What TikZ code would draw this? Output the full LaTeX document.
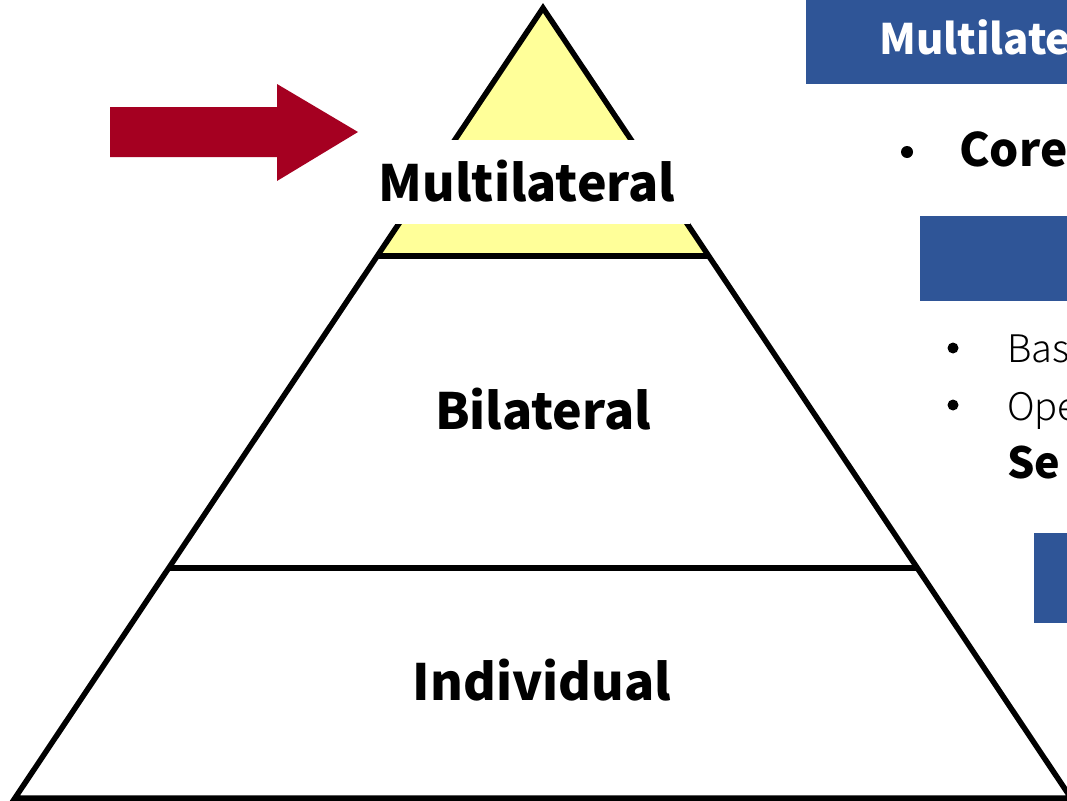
\documentclass[tikz,border=0pt]{standalone}
\usepackage{fontspec}
\setmainfont{Noto Sans CJK JP}
\IfFontExistsTF{Noto Sans CJK JP Light}
  {\newfontfamily\lightfont{Noto Sans CJK JP Light}}
  {\newfontfamily\lightfont{Noto Sans CJK JP}}
\definecolor{pyryellow}{HTML}{FFFF99}
\definecolor{arrowred}{HTML}{A50021}
\definecolor{hdrblue}{HTML}{2F5597}
\tikzset{
  layerlabel/.style={font=\fontsize{50}{54}\selectfont\bfseries, text=black, inner sep=0pt},
  outline/.style={line width=5.5pt, draw=black, line join=miter},
  bulletdot/.style={circle, fill=black, inner sep=0pt, minimum size=12pt},
  lighttext/.style={anchor=base west, font=\fontsize{38}{42}\selectfont\lightfont, inner sep=0pt},
}
\begin{document}
\begin{tikzpicture}[x=1pt,y=-1pt]
\useasboundingbox (0,0) rectangle (1067,800);
\clip (0,0) rectangle (1067,800);
% pyramid geometry
\coordinate (apex) at (543,8);
\coordinate (bl) at (15,798);
\coordinate (br) at (1071,798);
\coordinate (t1l) at (377.3,256);
\coordinate (t1r) at (708.7,256);
\coordinate (t2l) at (169,568);
\coordinate (t2r) at (917,568);
% top yellow triangle
\fill[pyryellow] (apex) -- (t1l) -- (t1r) -- cycle;
\draw[outline] (apex) -- (bl) -- (br) -- cycle;
\draw[outline] (t1l) -- (t1r);
\draw[outline] (t2l) -- (t2r);
% white label box
\fill[white] (375,140) rectangle (690,224);
\node[layerlabel] (multi) at (527,181) {Multilateral};
\node[layerlabel] (bi) at (543,409) {Bilateral};
\node[layerlabel] (indiv) at (542,680) {Individual};
% red arrow
\fill[arrowred] (110,107) -- (277,107) -- (277,84) -- (358,132) -- (277,181) -- (277,157) -- (110,157) -- cycle;
% right panel
\fill[hdrblue] (806,0) rectangle (1080,84);
\node[anchor=base west, text=white, font=\fontsize{42}{46}\selectfont\bfseries, inner sep=0pt] (hdr) at (879,55) {Multilate};
\node[bulletdot] (b1) at (907,152) {};
\node[anchor=base west, font=\fontsize{46}{50}\selectfont\bfseries, inner sep=0pt] (core) at (959,166) {Core};
\fill[hdrblue] (920,216) rectangle (1080,301);
\node[bulletdot, minimum size=11pt] (b2) at (953,348) {};
\node[lighttext] (bas) at (1007,362) {Bas};
\node[bulletdot, minimum size=11pt] (b3) at (953,405) {};
\node[lighttext] (ope) at (1007,420) {Ope};
\node[anchor=base west, font=\fontsize{43}{47}\selectfont\bfseries, inner sep=0pt] (se) at (1007,478) {Se};
\fill[hdrblue] (1034,533) rectangle (1080,623);
\end{tikzpicture}
\end{document}
